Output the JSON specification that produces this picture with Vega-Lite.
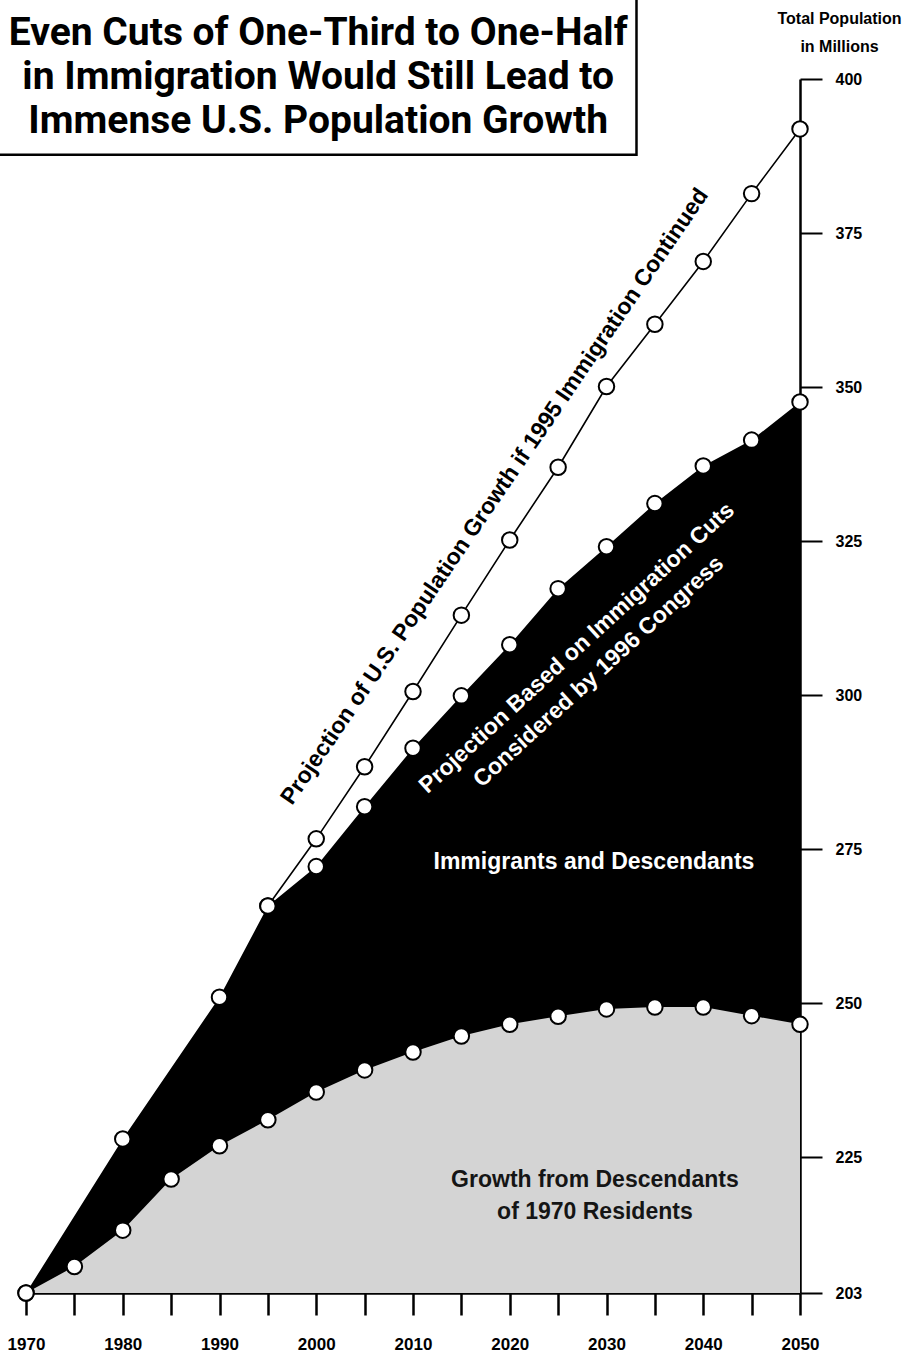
{
  "$schema": "https://vega.github.io/schema/vega-lite/v6.json",
  "width": 774,
  "height": 1214,
  "autosize": {"type": "none"},
  "padding": {"left": 26, "top": 79, "right": 104, "bottom": 66},
  "background": "white",
  "config": {"view": {"stroke": null}, "font": "Liberation Sans"},
  "datasets": {
    "series": [
      {"series": "residents", "year": 1970, "value": 203},
      {"series": "residents", "year": 1975, "value": 207.3},
      {"series": "residents", "year": 1980, "value": 213.2},
      {"series": "residents", "year": 1985, "value": 221.5},
      {"series": "residents", "year": 1990, "value": 226.9},
      {"series": "residents", "year": 1995, "value": 231.1},
      {"series": "residents", "year": 2000, "value": 235.6},
      {"series": "residents", "year": 2005, "value": 239.2},
      {"series": "residents", "year": 2010, "value": 242.1},
      {"series": "residents", "year": 2015, "value": 244.7},
      {"series": "residents", "year": 2020, "value": 246.6},
      {"series": "residents", "year": 2025, "value": 247.9},
      {"series": "residents", "year": 2030, "value": 249.1},
      {"series": "residents", "year": 2035, "value": 249.4},
      {"series": "residents", "year": 2040, "value": 249.4},
      {"series": "residents", "year": 2045, "value": 248.0},
      {"series": "residents", "year": 2050, "value": 246.6},
      {"series": "cuts", "year": 1970, "value": 203},
      {"series": "cuts", "year": 1980, "value": 228.0},
      {"series": "cuts", "year": 1990, "value": 251.0},
      {"series": "cuts", "year": 1995, "value": 265.8},
      {"series": "cuts", "year": 2000, "value": 272.2},
      {"series": "cuts", "year": 2005, "value": 281.9},
      {"series": "cuts", "year": 2010, "value": 291.4},
      {"series": "cuts", "year": 2015, "value": 299.9},
      {"series": "cuts", "year": 2020, "value": 308.2},
      {"series": "cuts", "year": 2025, "value": 317.3},
      {"series": "cuts", "year": 2030, "value": 324.1},
      {"series": "cuts", "year": 2035, "value": 331.1},
      {"series": "cuts", "year": 2040, "value": 337.2},
      {"series": "cuts", "year": 2045, "value": 341.4},
      {"series": "cuts", "year": 2050, "value": 347.6},
      {"series": "continued", "year": 1995, "value": 265.8},
      {"series": "continued", "year": 2000, "value": 276.7},
      {"series": "continued", "year": 2005, "value": 288.4},
      {"series": "continued", "year": 2010, "value": 300.6},
      {"series": "continued", "year": 2015, "value": 313.0},
      {"series": "continued", "year": 2020, "value": 325.2},
      {"series": "continued", "year": 2025, "value": 337.0},
      {"series": "continued", "year": 2030, "value": 350.1},
      {"series": "continued", "year": 2035, "value": 360.2},
      {"series": "continued", "year": 2040, "value": 370.4},
      {"series": "continued", "year": 2045, "value": 381.4},
      {"series": "continued", "year": 2050, "value": 391.9}
    ],
    "labels": [
      {"id": "title", "year": 2000.2, "value": 407.5, "label": "Even Cuts of One-Third to One-Half\nin Immigration Would Still Lead to\nImmense U.S. Population Growth"},
      {"id": "continued", "year": 2018.45, "value": 332.25, "label": "Projection of U.S. Population Growth if 1995 Immigration Continued"},
      {"id": "cuts", "year": 2026.94, "value": 307.66, "label": "Projection Based on Immigration Cuts\nConsidered by 1996 Congress"},
      {"id": "immigrants", "year": 2028.7, "value": 272.9, "label": "Immigrants and Descendants"},
      {"id": "residents", "year": 2028.8, "value": 221.4, "label": "Growth from Descendants\nof 1970 Residents"}
    ],
    "titlebox": [
      {"year": 1966, "year2": 2033.1, "value": 414, "value2": 387.7}
    ]
  },
  "encoding": {
    "x": {
      "field": "year", "type": "quantitative",
      "scale": {"domain": [1970, 2050], "nice": false, "zero": false},
      "axis": {
        "values": [1970, 1975, 1980, 1985, 1990, 1995, 2000, 2005, 2010, 2015, 2020, 2025, 2030, 2035, 2040, 2045, 2050],
        "format": "d",
        "labelExpr": "datum.value % 10 === 0 ? datum.label : ''",
        "title": null, "grid": false,
        "tickSize": 22, "tickWidth": 2.5, "tickColor": "black",
        "domainColor": "black", "domainWidth": 2.5,
        "labelFont": "Liberation Sans", "labelFontSize": 17, "labelFontWeight": "bold",
        "labelColor": "black", "labelPadding": 21, "labelFlush": false, "labelOverlap": false
      }
    },
    "y": {
      "field": "value", "type": "quantitative",
      "scale": {"domain": [203, 400], "nice": false, "zero": false},
      "axis": {
        "orient": "right",
        "values": [203, 225, 250, 275, 300, 325, 350, 375, 400],
        "grid": false,
        "tickSize": 22, "tickWidth": 2, "tickColor": "black",
        "domainColor": "black", "domainWidth": 2.5,
        "labelFont": "Liberation Sans", "labelFontSize": 16, "labelFontWeight": "bold",
        "labelColor": "black", "labelPadding": 13, "labelFlush": false, "labelOverlap": false,
        "title": ["Total Population", "in Millions"],
        "titleAngle": 0, "titleX": 39, "titleY": -61,
        "titleAlign": "center", "titleBaseline": "middle",
        "titleFont": "Liberation Sans", "titleFontSize": 16, "titleFontWeight": "bold",
        "titleColor": "black", "titleLineHeight": 28
      }
    }
  },
  "layer": [
    {
      "data": {"name": "series"},
      "transform": [{"filter": "datum.series === 'cuts'"}],
      "mark": {"type": "area", "color": "black", "opacity": 1},
      "encoding": {"y2": {"datum": 203}}
    },
    {
      "data": {"name": "series"},
      "transform": [{"filter": "datum.series === 'residents'"}],
      "mark": {"type": "area", "color": "#d4d4d4", "opacity": 1},
      "encoding": {"y2": {"datum": 203}}
    },
    {
      "data": {"name": "series"},
      "transform": [{"filter": "datum.series === 'continued'"}],
      "mark": {"type": "line", "color": "black", "strokeWidth": 1.6},
      "encoding": {}
    },
    {
      "data": {"name": "series"},
      "mark": {"type": "circle", "fill": "white", "stroke": "black", "strokeWidth": 2, "size": 240, "opacity": 1},
      "encoding": {}
    },
    {
      "data": {"name": "labels"},
      "transform": [{"filter": "datum.id === 'continued'"}],
      "mark": {"type": "text", "angle": -55.7, "align": "center", "baseline": "middle", "font": "Liberation Sans", "fontWeight": "bold", "fontSize": 23, "color": "black"},
      "encoding": {"text": {"field": "label", "type": "nominal"}}
    },
    {
      "data": {"name": "labels"},
      "transform": [{"filter": "datum.id === 'cuts'"}],
      "mark": {"type": "text", "angle": -42.5, "align": "center", "baseline": "middle", "font": "Liberation Sans", "fontWeight": "bold", "fontSize": 23, "lineHeight": 32, "lineBreak": "\n", "color": "white"},
      "encoding": {"text": {"field": "label", "type": "nominal"}}
    },
    {
      "data": {"name": "labels"},
      "transform": [{"filter": "datum.id === 'immigrants'"}],
      "mark": {"type": "text", "align": "center", "baseline": "middle", "font": "Liberation Sans", "fontWeight": "bold", "fontSize": 23, "color": "white"},
      "encoding": {"text": {"field": "label", "type": "nominal"}}
    },
    {
      "data": {"name": "labels"},
      "transform": [{"filter": "datum.id === 'residents'"}],
      "mark": {"type": "text", "align": "center", "baseline": "middle", "font": "Liberation Sans", "fontWeight": "bold", "fontSize": 23, "lineHeight": 32, "lineBreak": "\n", "color": "#151515"},
      "encoding": {"text": {"field": "label", "type": "nominal"}}
    },
    {
      "data": {"name": "titlebox"},
      "mark": {"type": "rect", "fill": "white", "stroke": "black", "strokeWidth": 2.5},
      "encoding": {
        "x": {"field": "year", "type": "quantitative"},
        "x2": {"field": "year2"},
        "y": {"field": "value", "type": "quantitative"},
        "y2": {"field": "value2"}
      }
    },
    {
      "data": {"name": "labels"},
      "transform": [{"filter": "datum.id === 'title'"}],
      "mark": {"type": "text", "align": "center", "baseline": "middle", "font": "Roboto", "fontWeight": "bold", "fontSize": 39, "lineHeight": 44, "lineBreak": "\n", "color": "black"},
      "encoding": {"text": {"field": "label", "type": "nominal"}}
    }
  ]
}
